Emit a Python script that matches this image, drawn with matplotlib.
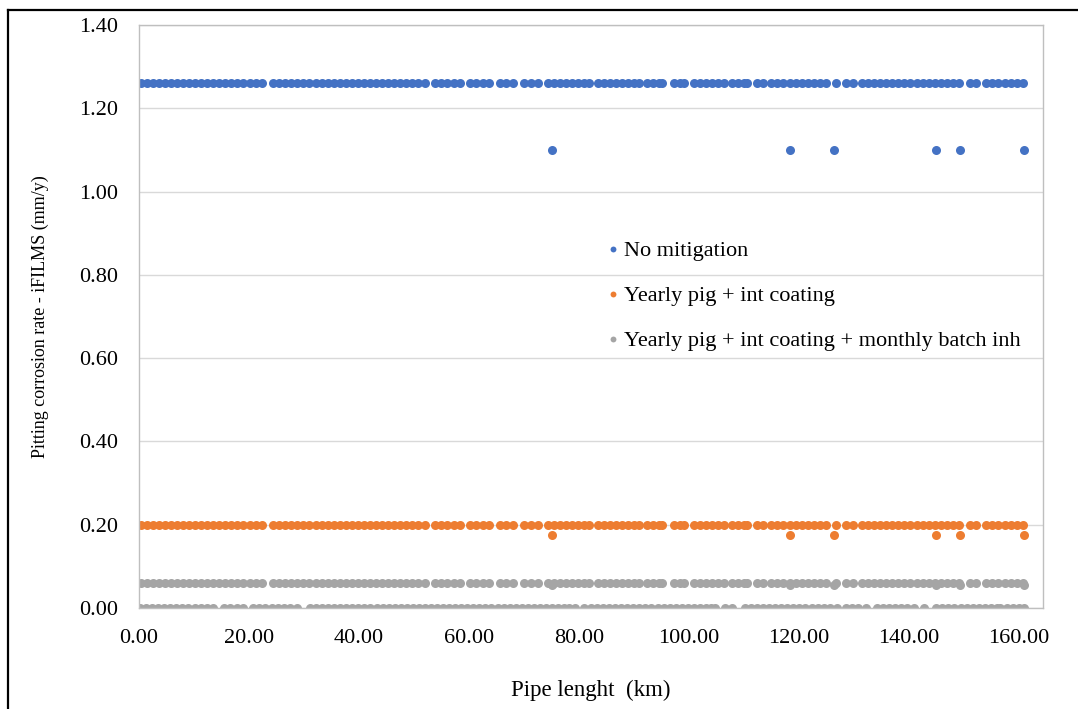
import matplotlib
matplotlib.use("Agg")
import matplotlib.pyplot as plt
from matplotlib.lines import Line2D


# DATA: pipe positions (km)
# positions shared by the three upper rows (blue 1.26, orange 0.20, grey 0.06)
main_x = [0.3, 1.4, 2.5, 3.6, 4.7, 5.8, 6.9, 8.0, 9.1, 10.2, 11.3, 12.4, 13.5,
          14.6, 15.7, 16.8, 17.9, 19.0, 20.1, 21.2, 22.4,
          24.4, 25.5, 26.6, 27.7, 28.8, 29.9, 31.0, 32.1, 33.2, 34.3, 35.4,
          36.5, 37.6, 38.7, 39.8, 40.9, 42.0, 43.1, 44.2, 45.3, 46.4, 47.5,
          48.6, 49.7, 50.8, 52.0,
          53.9, 55.0, 56.1, 57.3, 58.4,
          60.2, 61.3, 62.5, 63.7,
          65.7, 66.8, 68.1,
          70.1, 71.2, 72.6,
          74.3, 75.4, 76.5, 77.6, 78.7, 79.8, 80.9, 81.8,
          83.5, 84.6, 85.7, 86.8, 87.9, 89.0, 90.0, 90.9,
          92.4, 93.5, 94.5, 95.2,
          97.3, 98.3, 99.2,
          100.9, 102.0, 103.1, 104.2, 105.3, 106.3,
          107.8, 108.9, 110.0, 110.6,
          112.3, 113.4,
          115.0, 116.1, 117.2, 118.3, 119.4, 120.5, 121.6, 122.7, 123.8, 125.0,
          126.8,
          128.6, 129.8,
          131.5, 132.6, 133.7, 134.8, 135.9, 137.0, 138.1, 139.2, 140.3, 141.4,
          142.5, 143.6, 144.7, 145.8, 146.9, 148.0, 149.2,
          151.1, 152.3,
          154.1, 155.2, 156.3, 157.4, 158.5, 159.6, 160.8]

# positions of the grey points sitting on 0.00
low_x = [0.2, 1.3, 2.4, 3.5, 4.6, 5.7, 6.8, 7.9, 9.0, 10.1, 11.2, 12.3, 13.5,
         15.5, 16.6, 17.8, 19.0,
         20.8, 21.9, 23.0, 24.1, 25.2, 26.3, 27.4, 28.7,
         31.1, 32.2, 33.3, 34.4, 35.5, 36.6, 37.7, 38.8, 39.9, 41.0, 42.1,
         43.2, 44.3, 45.4, 46.5, 47.6, 48.7, 49.8, 50.9, 52.0, 53.1, 54.2,
         55.3, 56.4, 57.5, 58.6, 59.7, 60.8, 61.9, 63.0, 64.1, 65.2, 66.3,
         67.4, 68.5, 69.6, 70.7, 71.8, 72.9, 74.0, 75.1, 76.2, 77.3, 78.2, 79.2,
         80.9,
         82.2, 83.3, 84.4, 85.5, 86.6, 87.7, 88.8, 89.9, 91.0, 92.1, 93.2,
         94.3, 95.4, 96.5, 97.6, 98.7, 99.8, 100.9, 102.0, 103.1, 104.0, 104.7,
         106.6, 107.8,
         110.2, 111.3, 112.4, 113.5, 114.6, 115.7, 116.8, 117.9, 119.0, 120.1,
         121.2, 122.3, 123.4, 124.5, 125.6, 126.9,
         128.6, 129.7, 130.8, 132.3,
         134.2, 135.3, 136.4, 137.5, 138.6, 139.7, 140.9,
         142.7,
         145.0, 146.1, 147.2, 148.3, 149.4, 150.5, 151.6, 152.7, 153.8, 154.9,
         156.0, 156.5,
         157.8, 158.9, 160.0, 160.9]

# the six spots with a lower rate
dip_x = [75.1, 118.4, 126.4, 144.9, 149.3, 160.9]

# rates (mm/y)
no_mit_rate, no_mit_dip = 1.26, 1.10
pig_rate, pig_dip = 0.20, 0.175
batch_rate, batch_low, batch_dip = 0.06, 0.00, 0.055

labels = ["No mitigation",
          "Yearly pig + int coating",
          "Yearly pig + int coating + monthly batch inh"]
colors = ["#4472C4", "#ED7D31", "#A5A5A5"]

y_ticks = [0.0, 0.2, 0.4, 0.6, 0.8, 1.0, 1.2, 1.4]
x_ticks = [0, 20, 40, 60, 80, 100, 120, 140, 160]


def build_series():
    blue_x = main_x + dip_x
    blue_y = [no_mit_rate] * len(main_x) + [no_mit_dip] * len(dip_x)
    orange_x = main_x + dip_x
    orange_y = [pig_rate] * len(main_x) + [pig_dip] * len(dip_x)
    grey_x = main_x + low_x + dip_x
    grey_y = ([batch_rate] * len(main_x) + [batch_low] * len(low_x)
              + [batch_dip] * len(dip_x))
    return [(blue_x, blue_y), (orange_x, orange_y), (grey_x, grey_y)]


def draw_chart():
    plt.rcParams['font.family'] = ['Liberation Serif', 'DejaVu Serif']

    fig = plt.figure(figsize=(10.78, 7.09), dpi=100)
    ax = fig.add_axes([139 / 1078, 1 - 608 / 709, 904 / 1078, 583 / 709])

    for (xs, ys), lab, col in zip(build_series(), labels, colors):
        ax.plot(xs, ys, linestyle='none', marker='o', markersize=6.5,
                markeredgewidth=0, color=col, label=lab)

    ax.set_xlim(0, 164.4)
    ax.set_ylim(0, 1.4)
    ax.set_xticks(x_ticks)
    ax.set_yticks(y_ticks)
    ax.set_xticklabels([f"{v:.2f}" for v in x_ticks], fontsize=16)
    ax.set_yticklabels([f"{v:.2f}" for v in y_ticks], fontsize=16)
    ax.tick_params(axis='y', length=0, pad=15)
    ax.tick_params(axis='x', length=0, pad=15)

    ax.grid(axis='y', color='#D9D9D9', linewidth=1)
    ax.set_axisbelow(True)
    for side in ['left', 'bottom', 'right', 'top']:
        ax.spines[side].set_color('#BFBFBF')
        ax.spines[side].set_linewidth(1)

    ax.set_xlabel("Pipe lenght  (km)", fontsize=16.5, labelpad=23)
    ax.set_ylabel("Pitting corrosion rate - iFILMS (mm/y)", fontsize=13,
                  labelpad=22)

    ax.legend(loc='upper left', bbox_to_anchor=(0.497, 0.664),
              frameon=False, fontsize=16, markerscale=0.65,
              handlelength=0.4, handletextpad=0.3, labelspacing=1.1)

    # black outer frame of the picture
    fig.add_artist(Line2D([8 / 1078, 1], [1 - 10 / 709, 1 - 10 / 709],
                          color='black', linewidth=1.6))
    fig.add_artist(Line2D([8 / 1078, 8 / 1078], [0, 1 - 10 / 709],
                          color='black', linewidth=1.6))

    fig.savefig("out.png", dpi=100)


def main():
    draw_chart()


if __name__ == "__main__":
    main()
